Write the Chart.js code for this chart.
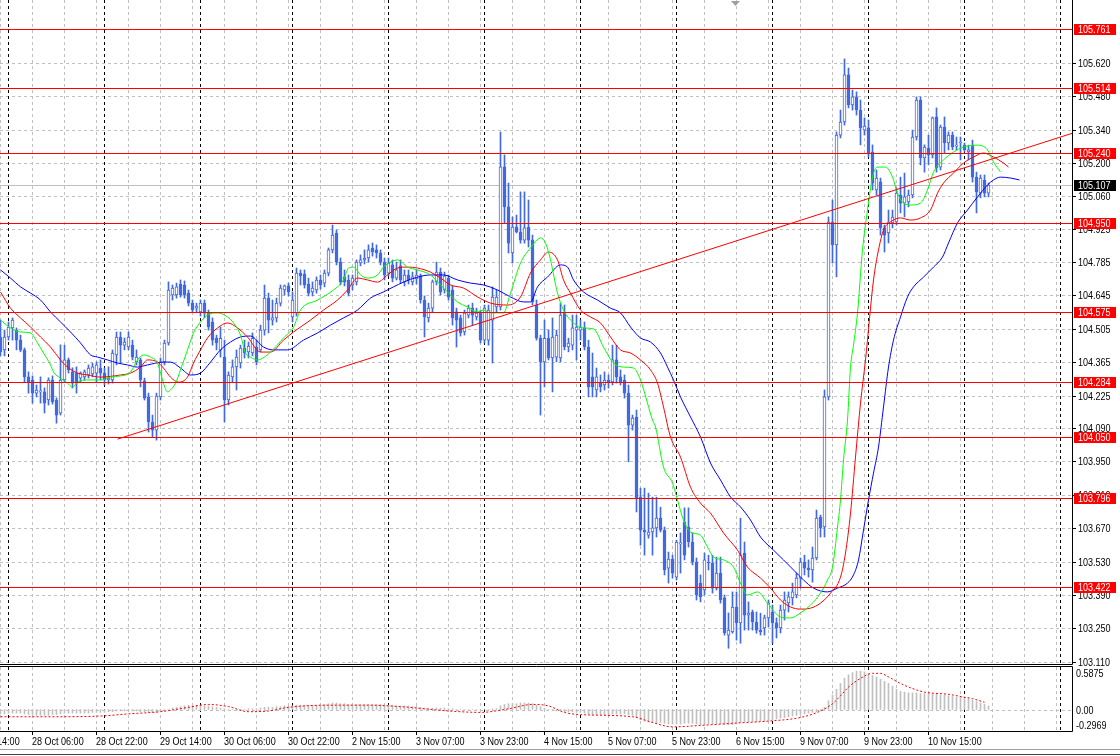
<!DOCTYPE html>
<html>
<head>
<meta charset="utf-8">
<script src="https://cdn.jsdelivr.net/npm/chart.js@4.4.0/dist/chart.umd.min.js"></script>
<style>
html, body { margin: 0; padding: 0; background: #fff; }
#wrap { position: relative; width: 1120px; height: 756px; overflow: hidden; }
#main { position: absolute; left: 0; top: 0; }
#osc { position: absolute; left: 0; top: 664px; }
</style>
</head>
<body>
<div id="wrap">
<canvas id="main" width="1120" height="672"></canvas>
<canvas id="osc" width="1120" height="92"></canvas>
</div>
<script>
// USDJPY H1, one value per candle (index 0 = first visible bar)
const opens = [
104.471,104.417,104.471,104.509,104.500,104.458,104.417,104.304,104.291,104.236,
104.241,104.241,104.207,104.291,104.207,104.152,104.291,104.375,104.325,104.320,
104.299,104.304,104.312,104.316,104.320,104.341,104.320,104.291,104.291,104.396,
104.471,104.437,104.429,104.437,104.367,104.375,104.287,104.220,104.115,104.081,
104.220,104.367,104.446,104.647,104.647,104.693,104.689,104.655,104.613,104.592,
104.576,104.613,104.571,104.534,104.466,104.417,104.387,104.207,104.304,104.346,
104.362,104.425,104.409,104.404,104.429,104.417,104.500,104.634,104.542,104.551,
104.613,104.668,104.685,104.555,104.571,104.739,104.735,104.693,104.660,104.668,
104.710,104.697,104.739,104.836,104.906,104.785,104.723,104.710,104.689,104.702,
104.781,104.794,104.802,104.844,104.836,104.823,104.785,104.739,104.773,104.718,
104.769,104.702,104.731,104.702,104.714,104.727,104.626,104.551,104.592,104.702,
104.743,104.668,104.718,104.668,104.576,104.551,104.492,104.563,104.592,104.555,
104.571,104.458,104.458,104.542,104.597,104.597,105.184,105.016,104.823,104.932,
104.911,104.877,104.932,104.877,104.605,104.466,104.367,104.466,104.383,104.387,
104.383,104.571,104.429,104.437,104.500,104.500,104.509,104.429,104.304,104.249,
104.278,104.270,104.291,104.283,104.375,104.304,104.291,104.236,104.102,104.136,
103.800,103.662,103.641,103.654,103.671,103.712,103.662,103.503,103.541,103.465,
103.604,103.696,103.675,103.612,103.528,103.440,103.411,103.528,103.524,103.419,
103.482,103.378,103.222,103.235,103.340,103.273,103.566,103.306,103.319,103.277,
103.243,103.252,103.294,103.319,103.273,103.252,103.327,103.357,103.378,103.390,
103.461,103.528,103.503,103.495,103.545,103.716,103.675,104.220,104.953,104.857,
105.317,105.372,105.569,105.443,105.477,105.422,105.338,105.347,105.246,105.087,
105.121,104.928,104.907,104.949,104.953,105.066,105.032,105.037,105.066,105.309,
105.464,105.221,105.263,105.234,105.393,105.183,105.351,105.284,105.317,105.271,
105.284,105.275,105.246,105.275,105.141,105.074,105.129,105.074
];
const highs = [
104.542,104.500,104.534,104.551,104.509,104.479,104.425,104.325,104.308,104.270,
104.304,104.258,104.300,104.308,104.216,104.438,104.437,104.383,104.342,104.346,
104.325,104.333,104.354,104.362,104.367,104.375,104.341,104.346,104.417,104.492,
104.492,104.467,104.492,104.458,104.417,104.383,104.299,104.236,104.144,104.236,
104.383,104.458,104.702,104.689,104.697,104.710,104.706,104.668,104.626,104.613,
104.626,104.626,104.584,104.551,104.479,104.513,104.458,104.325,104.375,104.417,
104.437,104.458,104.450,104.488,104.458,104.521,104.689,104.655,104.626,104.634,
104.689,104.689,104.697,104.660,104.760,104.752,104.752,104.718,104.702,104.723,
104.731,104.752,104.844,104.940,104.919,104.802,104.752,104.731,104.731,104.794,
104.815,104.836,104.857,104.865,104.857,104.836,104.802,104.802,104.794,104.785,
104.794,104.752,104.752,104.743,104.752,104.735,104.643,104.613,104.710,104.785,
104.760,104.743,104.731,104.685,104.592,104.563,104.584,104.605,104.613,104.592,
104.584,104.605,104.605,104.681,104.668,105.330,105.234,105.116,104.974,104.982,
105.079,105.079,105.045,104.898,104.626,104.479,104.542,104.500,104.551,104.500,
104.613,104.605,104.466,104.563,104.563,104.542,104.534,104.458,104.404,104.341,
104.312,104.325,104.312,104.437,104.437,104.333,104.312,104.270,104.144,104.165,
103.838,103.838,103.817,103.800,103.800,103.758,103.675,103.570,103.557,103.620,
103.650,103.755,103.755,103.650,103.545,103.474,103.566,103.557,103.557,103.549,
103.549,103.390,103.315,103.403,103.403,103.712,103.612,103.361,103.327,103.319,
103.314,103.306,103.369,103.348,103.294,103.348,103.403,103.403,103.440,103.482,
103.545,103.557,103.537,103.591,103.746,103.725,104.249,104.974,105.045,105.330,
105.422,105.636,105.598,105.506,105.498,105.464,105.389,105.380,105.276,105.171,
105.137,104.940,105.003,105.003,105.096,105.141,105.158,105.087,105.338,105.477,
105.477,105.276,105.317,105.393,105.431,105.359,105.393,105.330,105.330,105.309,
105.309,105.284,105.275,105.296,105.162,105.150,105.150,105.116
];
const lows = [
104.392,104.392,104.458,104.458,104.417,104.409,104.283,104.236,104.194,104.220,
104.194,104.153,104.186,104.190,104.110,104.144,104.283,104.320,104.257,104.236,
104.283,104.291,104.299,104.304,104.283,104.291,104.270,104.274,104.278,104.354,
104.362,104.417,104.417,104.375,104.354,104.262,104.207,104.073,104.052,104.039,
104.207,104.354,104.437,104.626,104.634,104.638,104.634,104.601,104.576,104.576,
104.559,104.551,104.500,104.437,104.417,104.387,104.115,104.186,104.283,104.249,
104.341,104.383,104.383,104.392,104.354,104.409,104.479,104.488,104.521,104.534,
104.601,104.647,104.643,104.534,104.559,104.689,104.676,104.643,104.643,104.655,
104.672,104.681,104.727,104.823,104.773,104.689,104.685,104.643,104.668,104.689,
104.769,104.777,104.785,104.810,104.802,104.773,104.710,104.727,104.702,104.710,
104.697,104.685,104.693,104.689,104.693,104.613,104.471,104.534,104.576,104.689,
104.647,104.655,104.626,104.521,104.429,104.475,104.479,104.551,104.521,104.542,
104.446,104.446,104.437,104.362,104.576,104.584,104.948,104.823,104.781,104.907,
104.864,104.864,104.848,104.605,104.458,104.144,104.262,104.375,104.241,104.367,
104.367,104.417,104.409,104.417,104.375,104.458,104.417,104.220,104.220,104.220,
104.241,104.249,104.257,104.270,104.278,104.270,104.215,103.948,104.081,103.738,
103.599,103.557,103.628,103.557,103.633,103.654,103.474,103.440,103.461,103.453,
103.482,103.537,103.591,103.516,103.369,103.361,103.390,103.495,103.398,103.411,
103.356,103.222,103.167,103.230,103.201,103.188,103.243,103.243,103.243,103.230,
103.222,103.222,103.256,103.188,103.210,103.231,103.285,103.319,103.348,103.378,
103.419,103.474,103.465,103.444,103.537,103.633,103.633,104.207,104.781,104.723,
105.305,105.359,105.431,105.422,105.401,105.276,105.317,105.225,105.087,105.066,
104.898,104.827,104.865,104.928,104.940,104.991,104.974,105.016,105.054,105.296,
105.192,105.162,105.192,105.221,105.162,105.171,105.242,105.255,105.255,105.255,
105.213,105.246,105.213,105.120,104.991,105.054,105.058,105.058
];
const closes = [
104.409,104.471,104.513,104.542,104.458,104.417,104.304,104.283,104.236,104.249,
104.245,104.194,104.291,104.199,104.144,104.291,104.375,104.333,104.278,104.278,
104.320,104.325,104.341,104.346,104.354,104.320,104.291,104.299,104.404,104.471,
104.437,104.450,104.471,104.387,104.387,104.291,104.215,104.115,104.081,104.224,
104.367,104.446,104.668,104.676,104.681,104.647,104.647,104.613,104.584,104.601,
104.613,104.571,104.513,104.458,104.446,104.466,104.207,104.312,104.346,104.387,
104.425,104.404,104.433,104.466,104.367,104.500,104.634,104.542,104.551,104.613,
104.676,104.685,104.660,104.626,104.739,104.727,104.689,104.655,104.676,104.710,
104.689,104.739,104.836,104.898,104.785,104.702,104.702,104.655,104.718,104.785,
104.794,104.802,104.836,104.827,104.823,104.785,104.731,104.781,104.718,104.752,
104.710,104.731,104.710,104.723,104.731,104.626,104.555,104.592,104.702,104.743,
104.660,104.727,104.638,104.551,104.542,104.488,104.571,104.592,104.563,104.571,
104.458,104.592,104.584,104.638,104.638,105.184,105.016,104.864,104.932,104.911,
104.877,104.928,104.877,104.618,104.466,104.367,104.466,104.383,104.471,104.479,
104.563,104.429,104.446,104.509,104.513,104.513,104.429,104.262,104.262,104.304,
104.262,104.291,104.283,104.375,104.304,104.283,104.236,104.102,104.131,103.796,
103.662,103.654,103.654,103.671,103.712,103.662,103.495,103.541,103.482,103.612,
103.608,103.557,103.612,103.528,103.390,103.382,103.537,103.524,103.419,103.482,
103.369,103.231,103.243,103.340,103.273,103.558,103.306,103.314,103.277,103.243,
103.235,103.294,103.357,103.273,103.252,103.327,103.369,103.382,103.403,103.461,
103.528,103.503,103.495,103.545,103.712,103.671,104.220,104.953,104.857,105.317,
105.372,105.569,105.443,105.477,105.422,105.347,105.355,105.242,105.116,105.137,
104.928,104.898,104.953,104.974,105.074,105.032,105.058,105.066,105.309,105.464,
105.221,105.267,105.234,105.389,105.179,105.351,105.284,105.317,105.267,105.275,
105.288,105.255,105.255,105.141,105.079,105.137,105.074,105.108
];

// Alligator lines as [bar index, price]
const lipsPts = [
[0,104.542],[2.5,104.509],[5,104.492],[7.5,104.488],[9.25,104.446],[10.75,104.404],[12.5,104.354],[13.25,104.324],
[15,104.299],[16.75,104.278],[18,104.261],[19.25,104.282],[21.75,104.291],[25,104.291],[27.5,104.303],[30,104.308],
[32.5,104.324],[34.25,104.375],[35.75,104.396],[37.5,104.387],[39.25,104.362],[40.5,104.291],[41.75,104.241],[42.5,104.249],
[43.75,104.278],[45,104.333],[46.75,104.417],[48.25,104.488],[50,104.534],[51.75,104.563],[54.25,104.572],[56.75,104.555],
[58.25,104.530],[60,104.479],[61.25,104.404],[62.5,104.387],[64.25,104.375],[67.5,104.408],[70.75,104.467],[73.25,104.513],
[75,104.584],[79.25,104.626],[83.25,104.668],[85.75,104.710],[87,104.760],[88.25,104.764],[90,104.731],[91.75,104.718],
[94.25,104.731],[95.75,104.764],[97.5,104.785],[99.25,104.794],[101.75,104.764],[104.25,104.752],[107.5,104.731],[110,104.689],
[111.75,104.660],[114.25,104.618],[116.75,104.597],[119.25,104.576],[120.75,104.584],[122.5,104.572],[125.75,104.572],[127.5,104.655],
[130,104.781],[132.5,104.844],[135,104.886],[136.25,104.865],[137.5,104.794],[139.25,104.655],[140.75,104.584],[142.5,104.542],
[145.75,104.509],[148.25,104.505],[150.75,104.429],[153.25,104.362],[155.75,104.345],[158.25,104.341],[160,104.291],[161.75,104.194],
[163,104.123],[163.75,104.094],[165.75,103.926],[168,103.859],[169.25,103.788],[170.75,103.704],[172.5,103.654],[175,103.641],
[176.75,103.591],[178.25,103.549],[180.75,103.537],[183.25,103.507],[185,103.440],[186.75,103.390],[189.25,103.403],[191.75,103.356],
[195,103.298],[197.5,103.294],[200,103.315],[202.5,103.348],[205,103.398],[206.75,103.453],[208,103.507],[209.25,103.675],
[210,103.788],[210.75,103.956],[211.75,104.123],[212.5,104.345],[213.25,104.437],[214.25,104.572],[215.5,104.836],[216.75,105.003],
[218,105.141],[219.25,105.183],[221.25,105.183],[223,105.141],[224.25,105.074],[225.75,105.032],[227.5,105.024],[230,105.032],
[231.75,105.087],[233.25,105.162],[235.75,105.213],[238.25,105.246],[240.75,105.267],[244.25,105.275],[246.75,105.255],[248.25,105.204],
[250,105.162]
];
const teethPts = [
[0,104.660],[2.5,104.592],[5,104.551],[7.5,104.513],[10,104.471],[12.5,104.429],[15,104.375],[16.75,104.345],
[19.25,104.320],[21.75,104.312],[25,104.303],[30,104.312],[32.5,104.320],[35,104.345],[36.75,104.375],[39.25,104.366],
[40.75,104.341],[42.5,104.303],[44.5,104.282],[46.75,104.303],[48.25,104.362],[50,104.417],[51.75,104.467],[54.25,104.509],
[56.75,104.530],[59.25,104.509],[61.75,104.471],[65,104.408],[67.5,104.408],[70.75,104.458],[73.25,104.492],[77.5,104.542],
[80.75,104.584],[84.25,104.626],[86.75,104.668],[89.25,104.718],[91.75,104.710],[94.25,104.701],[96.75,104.731],[99.25,104.760],
[101.75,104.764],[104.25,104.760],[107.5,104.743],[110,104.718],[112.5,104.689],[115.75,104.676],[119.25,104.639],[122.5,104.613],
[126.75,104.605],[130,104.639],[132.5,104.739],[135,104.794],[137,104.827],[139.25,104.794],[140.75,104.710],[142.5,104.655],
[145,104.584],[147.5,104.555],[150,104.530],[152.5,104.471],[155,104.417],[157.5,104.404],[160,104.375],[162.5,104.333],
[164.25,104.278],[165.75,104.178],[167.5,104.052],[170,103.968],[172.5,103.842],[175,103.775],[177.5,103.733],[180.75,103.650],
[184.25,103.578],[186.75,103.507],[190,103.461],[192.5,103.419],[195,103.369],[197.5,103.340],[200,103.331],[202.5,103.335],
[205,103.356],[207.5,103.398],[210,103.465],[211.25,103.566],[212.5,103.733],[213.75,103.968],[215,104.194],[216.25,104.375],
[218.25,104.710],[219.5,104.836],[220.75,104.919],[222.5,104.953],[225,104.970],[227.5,104.961],[230,104.970],[232.5,105.003],
[234.25,105.074],[235.75,105.116],[238.25,105.158],[240.75,105.200],[243.25,105.225],[245.75,105.242],[248.25,105.225],[250.75,105.200],
[252,105.183]
];
const jawPts = [
[0,104.752],[2.5,104.718],[5,104.681],[7.5,104.655],[10,104.626],[12.5,104.576],[15,104.534],[17.5,104.492],
[20,104.446],[22.5,104.396],[24.25,104.387],[26.75,104.375],[29.25,104.362],[31.75,104.354],[34.25,104.345],[36.75,104.354],
[40.75,104.366],[42.5,104.366],[45,104.341],[47.5,104.312],[50,104.320],[52.5,104.366],[55,104.417],[57.5,104.450],
[60,104.471],[62.5,104.475],[65.75,104.429],[68.25,104.417],[71.75,104.417],[75.75,104.458],[79.25,104.488],[82.5,104.521],
[85.75,104.551],[89.25,104.584],[92.5,104.634],[95.75,104.660],[98.25,104.681],[100.75,104.701],[104.25,104.722],[107.5,104.731],
[110.75,104.731],[114.25,104.710],[117.5,104.697],[120.75,104.689],[124.25,104.668],[127.5,104.639],[130.75,104.618],[132.5,104.618],
[134.25,104.681],[136.75,104.722],[140,104.773],[141.75,104.764],[143.25,104.710],[145.75,104.660],[149.25,104.626],[152.5,104.592],
[155,104.572],[157.5,104.513],[160,104.467],[162.5,104.450],[165,104.404],[166.75,104.345],[168.25,104.291],[170,104.220],
[172.5,104.136],[175,104.052],[177.5,103.943],[180,103.872],[182.5,103.801],[185,103.759],[187.5,103.704],[190,103.633],
[193.25,103.578],[195.75,103.537],[198.25,103.495],[200.75,103.453],[203.25,103.419],[206.75,103.403],[209.25,103.419],[211.75,103.440],
[213.25,103.474],[214.5,103.537],[215.75,103.662],[217,103.788],[218.25,103.901],[219.5,104.010],[220.75,104.178],[222,104.345],
[223.25,104.458],[225,104.555],[226.75,104.639],[228.25,104.681],[230.75,104.722],[233.25,104.764],[235.5,104.806],[237,104.865],
[239.25,104.949],[241.75,105.003],[244.25,105.058],[246.75,105.108],[248.25,105.129],[250,105.141],[252.5,105.137],[254.75,105.129]
];

// MACD: histogram per bar, signal line read as [bar index, value]
const macdMain = [
-0.06,-0.06,-0.05,-0.05,-0.05,-0.05,-0.06,-0.07,-0.07,-0.08,-0.08,-0.08,-0.08,-0.07,-0.07,-0.06,
-0.05,-0.05,-0.05,-0.05,-0.05,-0.05,-0.05,-0.04,-0.04,-0.04,-0.04,-0.03,-0.03,-0.02,-0.02,-0.02,
-0.02,-0.02,-0.02,-0.03,-0.03,-0.04,-0.04,-0.04,-0.03,-0.02,0.00,0.02,0.03,0.04,0.05,0.06,
0.06,0.06,0.06,0.05,0.05,0.04,0.03,0.02,0.01,0.00,0.00,0.00,0.00,0.00,0.01,0.01,
0.01,0.02,0.03,0.03,0.03,0.04,0.04,0.05,0.05,0.05,0.06,0.06,0.06,0.06,0.06,0.06,
0.06,0.07,0.08,0.09,0.09,0.08,0.08,0.07,0.07,0.07,0.07,0.07,0.07,0.07,0.07,0.07,
0.06,0.06,0.06,0.05,0.05,0.05,0.05,0.04,0.04,0.03,0.02,0.02,0.02,0.02,0.02,0.02,
0.01,0.01,0.00,0.00,0.00,0.00,0.00,0.00,0.00,0.00,0.00,0.01,0.01,0.05,0.07,0.08,
0.08,0.08,0.09,0.09,0.09,0.08,0.06,0.04,0.02,0.00,-0.01,-0.02,-0.02,-0.03,-0.03,-0.03,
-0.04,-0.04,-0.05,-0.06,-0.07,-0.07,-0.07,-0.07,-0.07,-0.06,-0.06,-0.06,-0.06,-0.07,-0.08,-0.11,
-0.14,-0.16,-0.17,-0.18,-0.18,-0.18,-0.19,-0.20,-0.20,-0.20,-0.20,-0.19,-0.19,-0.19,-0.20,-0.21,
-0.21,-0.20,-0.20,-0.20,-0.20,-0.21,-0.21,-0.21,-0.20,-0.18,-0.17,-0.17,-0.17,-0.17,-0.16,-0.16,
-0.15,-0.14,-0.13,-0.12,-0.11,-0.10,-0.09,-0.08,-0.07,-0.06,-0.05,-0.04,-0.03,-0.02,0.03,0.12,
0.20,0.28,0.36,0.43,0.48,0.51,0.53,0.53,0.52,0.50,0.47,0.45,0.42,0.39,0.36,0.32,
0.28,0.25,0.24,0.23,0.23,0.23,0.22,0.22,0.22,0.21,0.21,0.20,0.20,0.19,0.18,0.17,
0.17,0.16,0.15,0.13,0.11,0.09,0.07,0.05
];
const macdSignal = [
[0,-0.10],[12,-0.10],[25,-0.09],[32,-0.06],[40,-0.03],[47,0.03],[52,0.07],[57,0.04],[62,-0.03],[67,-0.02],
[72,0.03],[82,0.06],[92,0.06],[100,0.04],[112,-0.02],[120,-0.04],[127,0.01],[133,0.07],[137,0.05],[141,-0.04],
[145,-0.07],[158,-0.10],[163,-0.18],[168,-0.24],[175,-0.22],[183,-0.19],[192,-0.16],[200,-0.11],[205,-0.02],[208,0.08],
[210,0.19],[212,0.31],[215,0.43],[218,0.50],[220,0.50],[222,0.45],[225,0.36],[228,0.29],[231,0.24],[237,0.21],
[241,0.17],[243,0.15],[246,0.10]
];

const priceTicks = [105.620,105.480,105.340,105.200,105.060,104.925,104.785,104.645,104.505,104.365,
  104.225,104.090,103.950,103.810,103.670,103.530,103.390,103.250,103.110];
const levels = [105.761,105.514,105.240,104.950,104.575,104.284,104.050,103.796,103.422];
const lastPrice = 105.107;
const trendPts = [[29.25,104.043],[268,105.325]];
const oscMax = 0.5875, oscMin = -0.2969;

const timeIdx = [-8,8,24,40,56,72,88,104,120,136,152,168,184,200,216,232];
const timeLabels = ['27 Oct 14:00','28 Oct 06:00','28 Oct 22:00','29 Oct 14:00','30 Oct 06:00','30 Oct 22:00',
  '2 Nov 15:00','3 Nov 07:00','3 Nov 23:00','4 Nov 15:00','5 Nov 07:00','5 Nov 23:00','6 Nov 15:00',
  '9 Nov 07:00','9 Nov 23:00','10 Nov 15:00'];
const daySepIdx = [2,26,50,73,97,121,145,169,193,217,241,265];

const FONT = '11px "Liberation Sans", Arial, sans-serif';
const candleBlue = '#4169e1';
const xMin = -0.125, xMax = 267.875;

// narrow text like the terminal's small font
function label(ctx, txt, x, y) {
    ctx.save();
    ctx.translate(x, y);
    ctx.scale(0.82, 1);
    ctx.fillText(txt, 0, 0);
    ctx.restore();
}

function drawVGrid(chart) {
    const {ctx, chartArea: a, scales: {x}} = chart;
    ctx.save();
    ctx.lineWidth = 1;
    ctx.setLineDash([3, 3]);
    ctx.strokeStyle = '#c0c0c0';
    ctx.beginPath();
    for (let i = 0; i <= xMax; i += 8) {
        const px = Math.floor(x.getPixelForValue(i)) + 0.5;
        ctx.moveTo(px, a.top); ctx.lineTo(px, a.bottom);
    }
    ctx.stroke();
    ctx.strokeStyle = '#000';
    ctx.beginPath();
    daySepIdx.forEach(i => {
        const px = Math.floor(x.getPixelForValue(i)) + 0.5;
        ctx.moveTo(px, a.top); ctx.lineTo(px, a.bottom);
    });
    ctx.stroke();
    ctx.restore();
}

const mainPlugin = {
    id: 'mtMain',
    beforeDatasetsDraw(chart) {
        const {ctx, chartArea: a, scales: {y}} = chart;
        ctx.save();
        ctx.lineWidth = 1;
        ctx.setLineDash([3, 3]);
        ctx.strokeStyle = '#c0c0c0';
        ctx.beginPath();
        priceTicks.forEach(v => {
            const py = Math.round(y.getPixelForValue(v)) + 0.5;
            ctx.moveTo(a.left, py); ctx.lineTo(a.right, py);
        });
        ctx.stroke();
        ctx.restore();
        drawVGrid(chart);
        ctx.save();
        ctx.strokeStyle = '#c0c0c0';
        ctx.beginPath();
        const lp = Math.round(y.getPixelForValue(lastPrice)) + 0.5;
        ctx.moveTo(a.left, lp); ctx.lineTo(a.right, lp);
        ctx.stroke();
        ctx.restore();
    },
    afterDatasetsDraw(chart) {
        const {ctx, chartArea: a, scales: {y}} = chart;
        ctx.save();
        ctx.strokeStyle = '#ff0000';
        ctx.lineWidth = 1;
        ctx.beginPath();
        levels.forEach(v => {
            const py = Math.round(y.getPixelForValue(v)) + 0.5;
            ctx.moveTo(a.left, py); ctx.lineTo(a.right, py);
        });
        ctx.stroke();
        ctx.restore();
    },
    afterDraw(chart) {
        const {ctx, chartArea: a, scales: {y}} = chart;
        ctx.save();
        ctx.strokeStyle = '#000';
        ctx.lineWidth = 1;
        ctx.beginPath();
        ctx.moveTo(a.right + 0.5, 0); ctx.lineTo(a.right + 0.5, a.bottom + 0.5);
        ctx.lineTo(0, a.bottom + 0.5);
        ctx.stroke();
        ctx.font = FONT;
        ctx.textBaseline = 'middle';
        ctx.textAlign = 'left';
        ctx.fillStyle = '#000';
        ctx.beginPath();
        priceTicks.forEach(v => {
            const py = Math.round(y.getPixelForValue(v));
            ctx.moveTo(a.right, py + 0.5); ctx.lineTo(a.right + 4, py + 0.5);
            label(ctx, v.toFixed(3), a.right + 6, py + 1);
        });
        ctx.stroke();
        const tag = (v, bg) => {
            const py = Math.round(y.getPixelForValue(v));
            ctx.fillStyle = bg;
            ctx.fillRect(a.right + 2, py - 5, 42, 11);
            ctx.fillStyle = '#fff';
            label(ctx, v.toFixed(3), a.right + 6, py + 1);
        };
        levels.forEach(v => tag(v, '#ff0000'));
        tag(lastPrice, '#000');
        // chart shift marker
        ctx.fillStyle = '#a0a0a0';
        ctx.beginPath();
        ctx.moveTo(731, 1); ctx.lineTo(740, 1); ctx.lineTo(735.5, 6); ctx.closePath();
        ctx.fill();
        ctx.restore();
    }
};

const mainData = {
    datasets: [
        {
            type: 'line', data: trendPts.map(p => ({x: p[0], y: p[1]})),
            borderColor: '#ff0000', borderWidth: 1, pointRadius: 0, order: 1
        },
        {
            type: 'line', data: lipsPts.map(p => ({x: p[0], y: p[1]})),
            borderColor: '#00ff00', borderWidth: 1, pointRadius: 0, cubicInterpolationMode: 'monotone', order: 2
        },
        {
            type: 'line', data: teethPts.map(p => ({x: p[0], y: p[1]})),
            borderColor: '#ff0000', borderWidth: 1, pointRadius: 0, cubicInterpolationMode: 'monotone', order: 3
        },
        {
            type: 'line', data: jawPts.map(p => ({x: p[0], y: p[1]})),
            borderColor: '#0000ff', borderWidth: 1, pointRadius: 0, cubicInterpolationMode: 'monotone', order: 3
        },
        {
            type: 'bar', data: opens.map((o, i) => ({x: i, y: [o, closes[i]]})),
            backgroundColor: opens.map((o, i) => closes[i] >= o ? '#ffffff' : candleBlue),
            borderColor: candleBlue, borderWidth: 1, borderSkipped: false,
            barThickness: 3, minBarLength: 1, grouped: false, order: 4
        },
        {
            type: 'bar', data: lows.map((l, i) => ({x: i, y: [l, highs[i]]})),
            backgroundColor: candleBlue, borderWidth: 0,
            barThickness: 1, grouped: false, order: 5
        }
    ]
};

const mainOptions = {
    responsive: false,
    animation: false,
    events: [],
    layout: {padding: {left: 0, right: 48, top: 0, bottom: 8}},
    scales: {
        x: {type: 'linear', min: xMin, max: xMax, offset: false, display: false},
        y: {type: 'linear', min: 103.101, max: 105.883, display: false}
    },
    plugins: {legend: {display: false}, tooltip: {enabled: false}}
};

new Chart(document.getElementById('main'), {
    type: 'bar',
    data: mainData,
    options: mainOptions,
    plugins: [mainPlugin]
});

const oscPlugin = {
    id: 'mtOsc',
    beforeDatasetsDraw(chart) {
        const {ctx, chartArea: a, scales: {y}} = chart;
        drawVGrid(chart);
        ctx.save();
        ctx.setLineDash([3, 3]);
        ctx.strokeStyle = '#c0c0c0';
        ctx.beginPath();
        const zy = Math.round(y.getPixelForValue(0)) + 0.5;
        ctx.moveTo(a.left, zy); ctx.lineTo(a.right, zy);
        ctx.stroke();
        ctx.restore();
    },
    afterDraw(chart) {
        const {ctx, chartArea: a, scales: {x, y}} = chart;
        ctx.save();
        ctx.strokeStyle = '#000';
        ctx.lineWidth = 1;
        ctx.beginPath();
        ctx.moveTo(0, a.top - 0.5); ctx.lineTo(a.right + 0.5, a.top - 0.5);
        ctx.lineTo(a.right + 0.5, a.bottom + 0.5); ctx.lineTo(0, a.bottom + 0.5);
        ctx.stroke();
        ctx.font = FONT;
        ctx.fillStyle = '#000';
        ctx.textAlign = 'left';
        ctx.textBaseline = 'top';
        label(ctx, String(oscMax), a.right + 4, a.top + 1);
        ctx.textBaseline = 'middle';
        label(ctx, '0.00', a.right + 4, y.getPixelForValue(0) + 1);
        ctx.textBaseline = 'bottom';
        label(ctx, String(oscMin), a.right + 4, a.bottom);
        ctx.textBaseline = 'middle';
        ctx.beginPath();
        timeIdx.forEach((i, k) => {
            const px = Math.floor(x.getPixelForValue(i));
            ctx.moveTo(px + 0.5, a.bottom); ctx.lineTo(px + 0.5, a.bottom + 4);
            label(ctx, timeLabels[k], px, a.bottom + 11);
        });
        ctx.stroke();
        ctx.strokeStyle = '#a0a0a0';
        ctx.beginPath();
        ctx.moveTo(0, 85.5); ctx.lineTo(1120, 85.5);
        ctx.stroke();
        ctx.strokeStyle = '#404040';
        ctx.beginPath();
        ctx.moveTo(0, 90.5); ctx.lineTo(1120, 90.5);
        ctx.stroke();
        ctx.restore();
    }
};

new Chart(document.getElementById('osc'), {
    type: 'bar',
    data: {
        datasets: [
            {
                type: 'line', data: macdSignal.map(p => ({x: p[0], y: p[1]})),
                borderColor: '#ff0000', borderWidth: 1, borderDash: [2, 2], pointRadius: 0,
                cubicInterpolationMode: 'monotone', order: 1
            },
            {
                type: 'bar', data: macdMain.map((v, i) => ({x: i, y: v})),
                backgroundColor: '#c0c0c0', borderWidth: 0, barThickness: 1, grouped: false, order: 2
            }
        ]
    },
    options: {
        responsive: false,
        animation: false,
        events: [],
        layout: {padding: {left: 0, right: 48, top: 3, bottom: 25}},
        scales: {
            x: {type: 'linear', min: xMin, max: xMax, offset: false, display: false},
            y: {type: 'linear', min: oscMin, max: oscMax, display: false}
        },
        plugins: {legend: {display: false}, tooltip: {enabled: false}}
    },
    plugins: [oscPlugin]
});
</script>
</body>
</html>
